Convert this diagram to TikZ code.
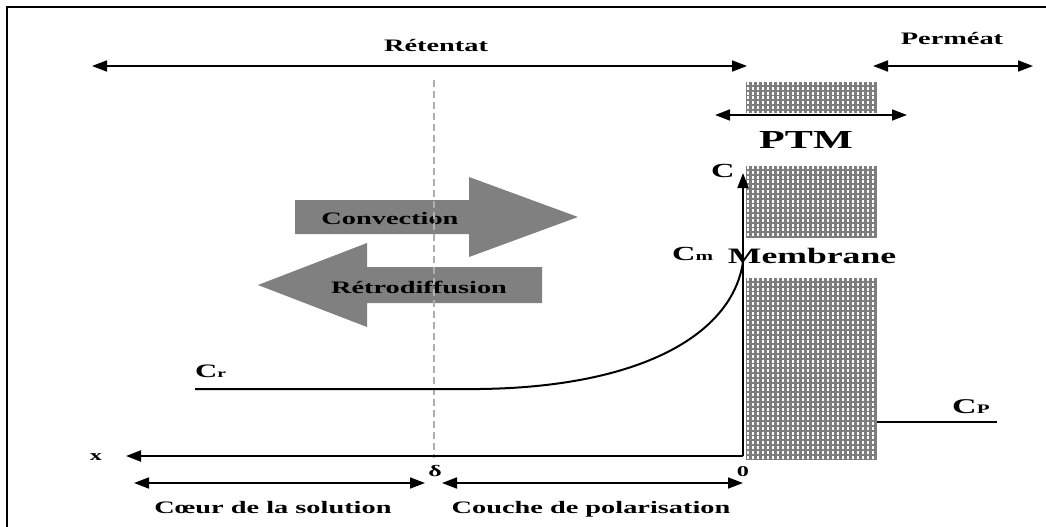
\documentclass[tikz,border=0pt]{standalone}
\usepackage{fontspec}
\setmainfont{Liberation Serif}[FakeStretch=1.62]
\usetikzlibrary{arrows.meta}
\definecolor{hatchgray}{RGB}{125,125,125}
\definecolor{arrowgray}{RGB}{128,128,128}
\definecolor{dashgray}{RGB}{175,175,175}
\tikzset{
  tipA/.tip={Triangle[length=15pt,width=11pt]},
  dblarrow/.style={line width=1.7pt, tipA-tipA},
  axisline/.style={line width=2pt},
  lbl/.style={font=\bfseries\fontsize{17.5}{19}\selectfont, inner sep=0pt},
  midlbl/.style={lbl, font=\bfseries\fontsize{17.5}{19}\selectfont},
  bigarrow/.style={fill=arrowgray, draw=none},
}
\newcommand{\hatchblock}[4]{%
  \fill[hatchgray] (#1,#2) rectangle (#3,#4);
  \begin{scope}
    \clip (#1,#2) rectangle (#3,#4);
    \foreach \xx in {#1,...,#3} {
      \pgfmathtruncatemacro{\mm}{mod(\xx-#1,5)}
      \ifnum\mm=2
        \draw[white, line width=2.6pt, dash pattern=on 3pt off 1.8pt] (\xx,#2) -- (\xx,#4);
      \fi
    }
  \end{scope}
}
\begin{document}
\begin{tikzpicture}[x=1pt,y=-1pt]
\useasboundingbox (0,0) rectangle (1046,527);
% frame
\draw[line width=2pt] (7,527) -- (7,7) -- (1046,7);

% membrane blocks
\hatchblock{746}{82}{877}{113}
\hatchblock{746}{166}{877}{238}
\hatchblock{746}{278}{877}{460}

% top labels and arrows
\node[lbl, anchor=base] (ret) at (436,52) {Rétentat};
\node[lbl, anchor=base] (perm) at (952,45) {Perméat};
\coordinate (retL) at (92,66);
\coordinate (retR) at (747,66);
\draw[dblarrow] (retL) -- (retR);
\coordinate (permL) at (873,66);
\coordinate (permR) at (1033,66);
\draw[dblarrow] (permL) -- (permR);

% PTM
\coordinate (ptmL) at (715,115);
\coordinate (ptmR) at (907,115);
\draw[dblarrow] (ptmL) -- (ptmR);
\node[lbl, font=\bfseries\fontsize{26}{28}\selectfont, anchor=base] (ptm) at (806,148) {PTM};

% big gray arrows
\path[bigarrow] (295,200) -- (469,200) -- (469,177) -- (578,217) -- (469,257) -- (469,234) -- (295,234) -- cycle;
\path[bigarrow] (542,267) -- (367,267) -- (367,243) -- (258,285) -- (367,327) -- (367,303) -- (542,303) -- cycle;
\node[midlbl, anchor=base] (conv) at (390,224) {Convection};
\node[midlbl, anchor=base] (retro) at (419,293) {Rétrodiffusion};

% dashed delta line
\coordinate (dtop) at (434,80);
\coordinate (dbot) at (434,458);
\draw[dashgray, line width=1.5pt, dash pattern=on 7pt off 4pt] (dtop) -- (dbot);

% axes
\coordinate (O) at (743,456);
\coordinate (xend) at (126,456);
\coordinate (cend) at (743,173);
\draw[axisline, -tipA] (O) -- (xend);
\draw[axisline, -tipA] (O) -- (cend);

% concentration profile
\coordinate (crS) at (195,389);
\coordinate (crE) at (480,389);
\coordinate (cm) at (743,262);
\draw[line width=2pt] (crS) -- (crE) .. controls (640,387) and (732,335) .. (cm);
\coordinate (cpS) at (877,422);
\coordinate (cpE) at (997,422);
\draw[line width=2pt] (cpS) -- (cpE);

% labels
\node[lbl, anchor=base west] (clab) at (711,177) {\fontsize{20}{20}\selectfont C};
\node[lbl, anchor=base west] (cmlab) at (672,260) {{\fontsize{20}{20}\selectfont C}{\fontsize{13}{13}\selectfont m}};
\node[lbl, font=\bfseries\fontsize{22}{24}\selectfont, anchor=base] (memb) at (812,263) {Membrane};
\node[lbl, anchor=base west] (crlab) at (195,377) {{\fontsize{19}{19}\selectfont C}{\fontsize{12}{12}\selectfont r}};
\node[lbl, anchor=base west] (cplab) at (952,413) {{\fontsize{21}{21}\selectfont C}{\fontsize{13}{13}\selectfont P}};
\node[lbl, font=\bfseries\fontsize{15}{16}\selectfont] (xlab) at (96,457) {x};
\node[lbl, font=\bfseries\fontsize{16}{16}\selectfont] (dlab) at (435,471) {δ};
\node[lbl, font=\bfseries\fontsize{15}{16}\selectfont] (zlab) at (743,472) {0};

% bottom arrows
\coordinate (b1L) at (134,483);
\coordinate (b1R) at (425,483);
\coordinate (b2L) at (442,483);
\coordinate (b2R) at (743,483);
\draw[dblarrow] (b1L) -- (b1R);
\draw[dblarrow] (b2L) -- (b2R);
\node[midlbl, anchor=base] (coeur) at (273,513) {Cœur de la solution};
\node[midlbl, anchor=base] (couche) at (591,513) {Couche de polarisation};
\end{tikzpicture}
\end{document}
